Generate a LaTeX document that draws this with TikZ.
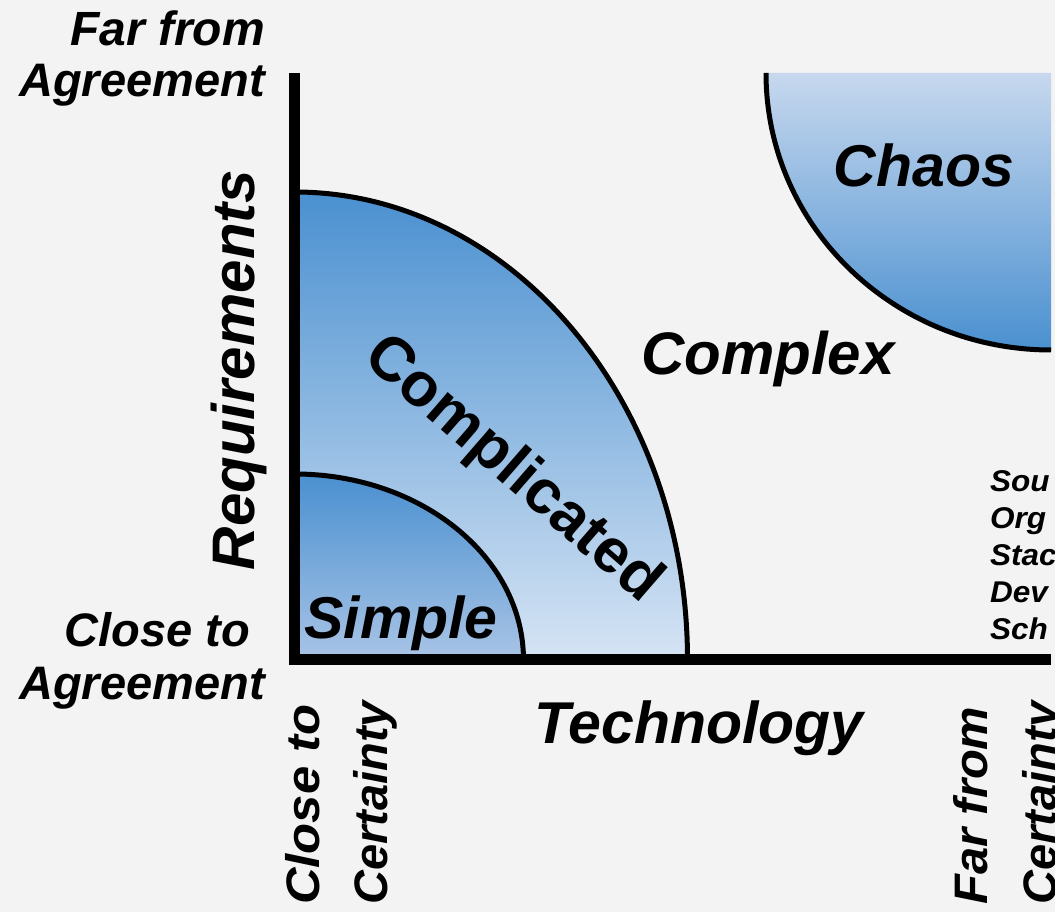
\documentclass[tikz,border=0pt]{standalone}
\usepackage{fontspec}
\setmainfont{Liberation Sans}
\usepackage{graphicx}
\usepackage{xcolor}
\usepackage{tikz}
\usetikzlibrary{calc}

\definecolor{bggray}{HTML}{F3F3F3}
\definecolor{deepblue}{HTML}{4A90D0}
\definecolor{paleblue}{HTML}{D6E4F4}
\definecolor{midblue}{HTML}{A9C4E6}
\definecolor{chaostop}{HTML}{C7D8EE}

% size, horizontal stretch, text
\newcommand{\lbl}[3]{{\fontsize{#1}{#1}\selectfont\scalebox{#2}[1]{#3}}}

\tikzset{
	axis/.style={line width=11pt, line join=miter},
	rim/.style={line width=5pt},
	word/.style={inner sep=0pt, font=\bfseries\itshape},
}

\begin{document}
\begin{tikzpicture}[x=1pt,y=1pt]
		\useasboundingbox (0,0) rectangle (1055,912);
		\clip (0,0) rectangle (1055,912);
		\fill[bggray] (0,0) rectangle (1055,912);
		\coordinate (O) at (294.5,252);
		\coordinate (C) at (1051,839);

		\shade[top color=deepblue, bottom color=paleblue]
			(O) -- ++(393,0) arc[start angle=0, end angle=90, x radius=393, y radius=468] -- cycle;
		\draw[rim] ($(O)+(393,0)$) arc[start angle=0, end angle=90, x radius=393, y radius=468];
		\shade[top color=deepblue, bottom color=midblue]
			(O) -- ++(229,0) arc[start angle=0, end angle=90, x radius=229, y radius=186] -- cycle;
		\draw[rim] ($(O)+(229,0)$) arc[start angle=0, end angle=90, x radius=229, y radius=186];
		\shade[top color=chaostop, bottom color=deepblue]
			(C) -- ++(-285,0) arc[start angle=180, end angle=270, x radius=285, y radius=277] -- cycle;
		\draw[rim] ($(C)+(-285,0)$) arc[start angle=180, end angle=270, x radius=285, y radius=277];

		\draw[axis] (294.5,839) -- (O) -- (1051,252);

		\node[word, anchor=base] (chaos) at (924,725) {\lbl{59}{1}{Chaos}};
		\node[word, anchor=base] (complex) at (768,537) {\lbl{60}{1}{Complex}};
		\node[word, font=\bfseries, rotate=-41] (complicated) at (512,442) {\lbl{62}{1}{Complicated}};
		\node[word, anchor=base] (simple) at (401,273) {\lbl{59}{1}{Simple}};
		\node[word, anchor=base] (tech) at (699,168) {\lbl{59}{1}{Technology}};
		\node[word, anchor=base, rotate=90] (req) at (254,542) {\lbl{60}{1}{Requirements}};

		\node[word, anchor=base east] (farA) at (265,866) {\lbl{48}{1}{Far from}};
		\node[word, anchor=base east] (agreeA) at (265,815) {\lbl{47}{1}{Agreement}};
		\node[word, anchor=base east] (closeA) at (250,265) {\lbl{47}{1}{Close to}};
		\node[word, anchor=base east] (agreeB) at (265,212) {\lbl{47}{1}{Agreement}};

		\node[word, anchor=base west, rotate=90] (closeT) at (319,7) {\lbl{47}{1.08}{Close to}};
		\node[word, anchor=base west, rotate=90] (certA) at (387,7) {\lbl{47}{1}{Certainty}};
		\node[word, anchor=base west, rotate=90] (farT) at (987,7) {\lbl{47}{1.04}{Far from}};
		\node[word, anchor=base west, rotate=90] (certB) at (1056,7) {\lbl{47}{1}{Certainty}};

		\node[word, anchor=base west] (src1) at (990,420) {\lbl{30}{1.05}{Sou}};
		\node[word, anchor=base west] (src2) at (990,383) {\lbl{30}{1.05}{Org}};
		\node[word, anchor=base west] (src3) at (990,346) {\lbl{30}{1.05}{Stac}};
		\node[word, anchor=base west] (src4) at (990,309) {\lbl{30}{1.05}{Dev}};
		\node[word, anchor=base west] (src5) at (990,272) {\lbl{30}{1.05}{Sch}};
	\end{tikzpicture}
\end{document}
